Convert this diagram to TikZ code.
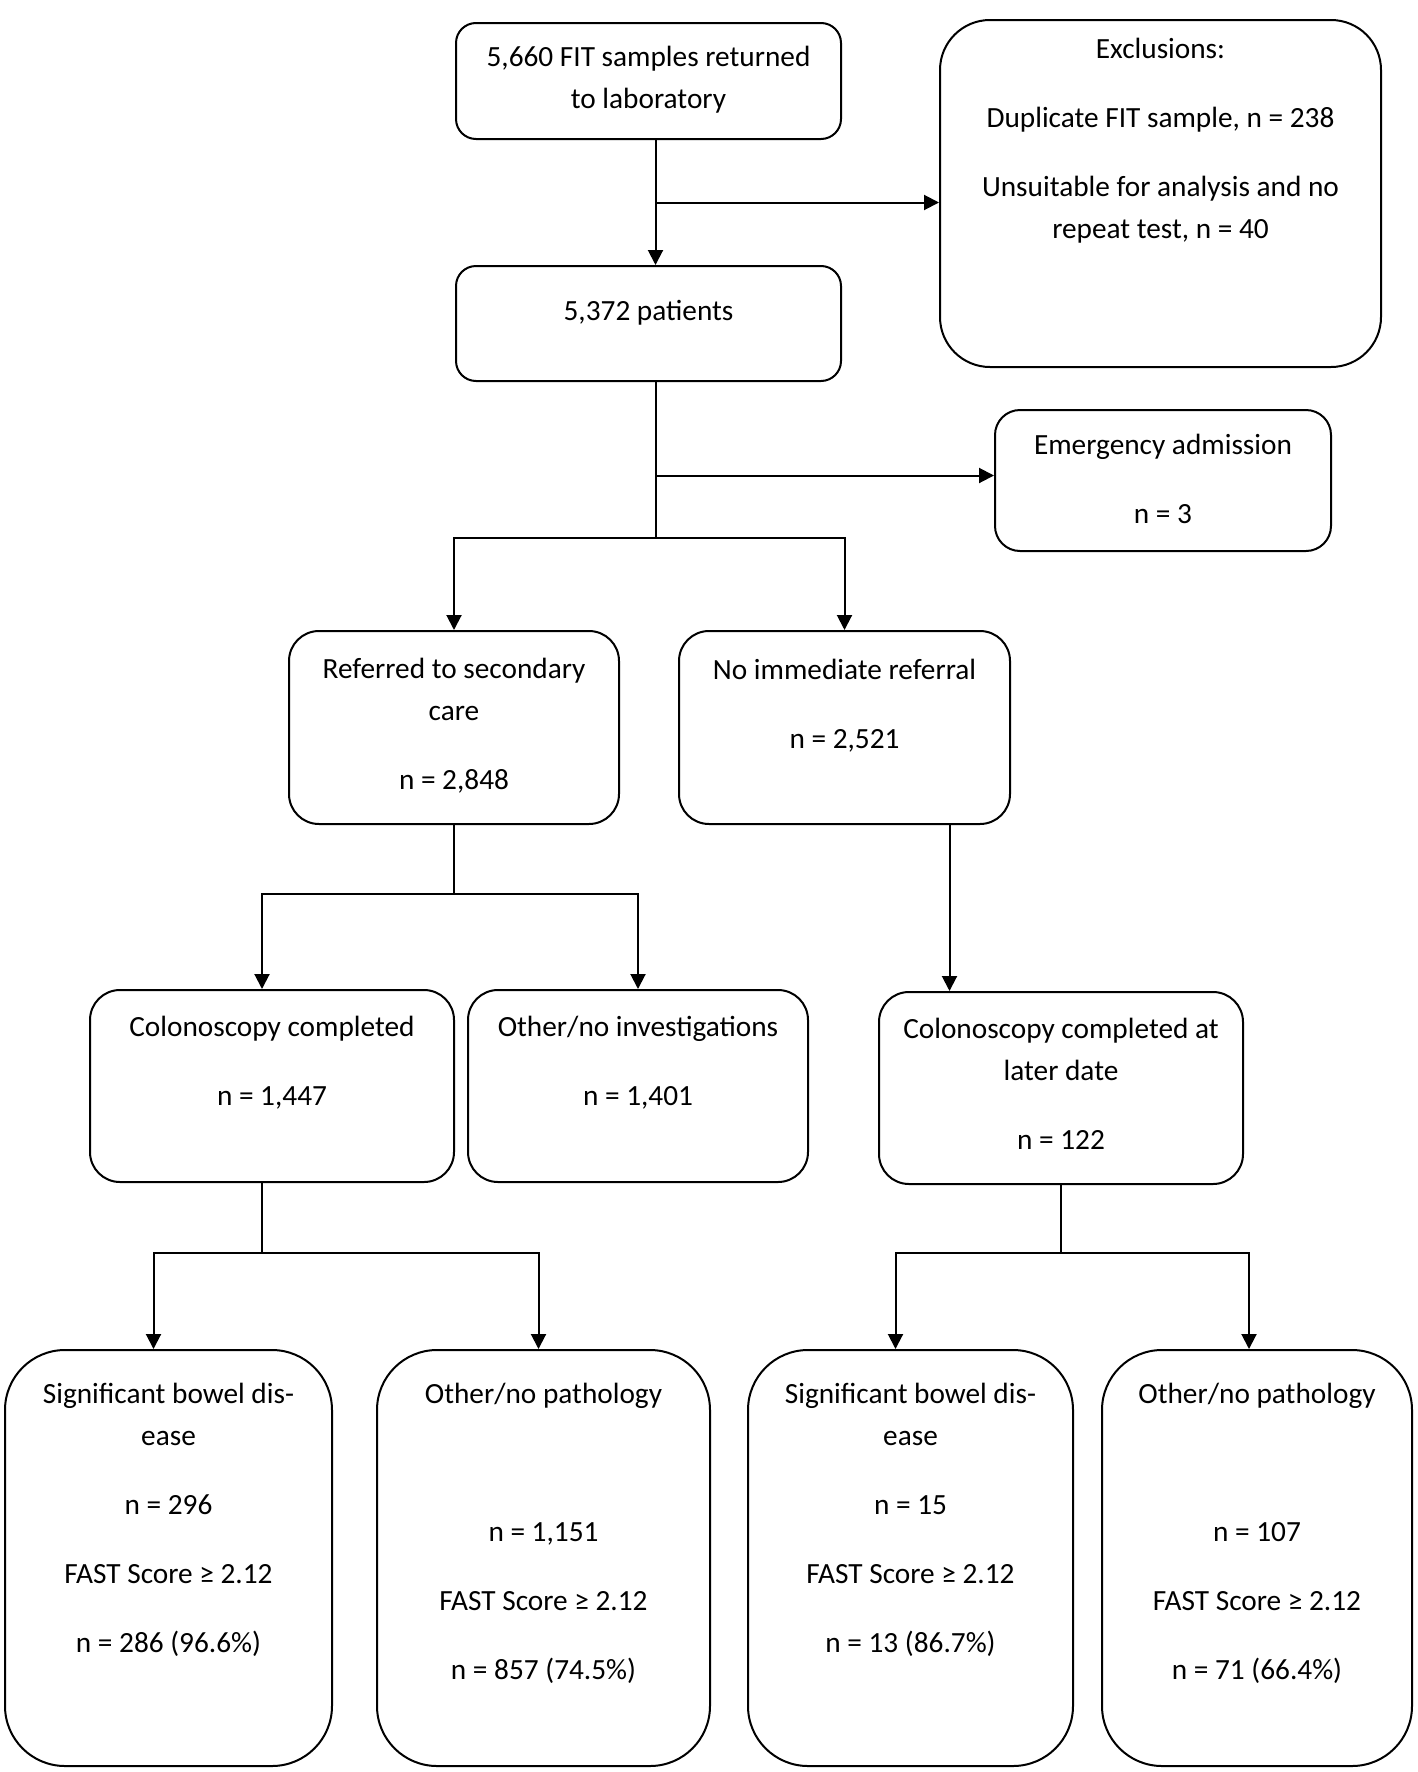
\documentclass[tikz,border=0pt]{standalone}
\usepackage{fontspec}
\setmainfont{Carlito}
\usetikzlibrary{arrows.meta,calc}

\begin{document}
\begin{tikzpicture}[x=1pt, y=1pt, line width=2pt,
    box/.style={draw, rounded corners=#1, inner sep=0pt},
    box/.default=25pt,
    txt/.style={anchor=north, align=center, inner sep=0pt, font=\fontsize{29.3}{42}\selectfont, execute at begin node=\strut},
    arr/.style={-{Triangle[width=15pt,length=15pt]}}]
    \useasboundingbox (0,0) rectangle (1418,-1772);

    \node[box=20pt, minimum width=385pt, minimum height=116pt] (fit) at (648.5,-81) {};
    \node[box=50pt, minimum width=441pt, minimum height=347pt] (excl) at (1160.5,-193.5) {};
    \node[box=20pt, minimum width=385pt, minimum height=115pt] (pat) at (648.5,-323.5) {};
    \node[box, minimum width=336pt, minimum height=141pt] (emerg) at (1163,-480.5) {};
    \node[box=30pt, minimum width=330pt, minimum height=193pt] (ref) at (454,-727.5) {};
    \node[box=30pt, minimum width=331pt, minimum height=193pt] (noref) at (844.5,-727.5) {};
    \node[box=30pt, minimum width=364pt, minimum height=192pt] (colo) at (272,-1086) {};
    \node[box=30pt, minimum width=340pt, minimum height=192pt] (other) at (638,-1086) {};
    \node[box=30pt, minimum width=364pt, minimum height=192pt] (later) at (1061,-1088) {};
    \node[box=60pt, minimum width=327pt, minimum height=416pt] (sig1) at (168.5,-1558) {};
    \node[box=60pt, minimum width=333pt, minimum height=416pt] (path1) at (543.5,-1558) {};
    \node[box=60pt, minimum width=325pt, minimum height=416pt] (sig2) at (910.5,-1558) {};
    \node[box=60pt, minimum width=310pt, minimum height=416pt] (path2) at (1257,-1558) {};

    \node[txt] (fittxt) at (648.5,-45.6) {5,660 FIT samples returned\\to laboratory};
    \node[txt] (excltxt) at (1160.5,-37.6) {Exclusions:\\[27pt]Duplicate FIT sample, n = 238\\[27pt]Unsuitable for analysis and no\\repeat test, n = 40};
    \node[txt] (pattxt) at (648.5,-289.6) {5,372 patients};
    \node[txt] (emergtxt) at (1163,-433.6) {Emergency admission\\[27pt]n = 3};
    \node[txt] (reftxt) at (454,-657.6) {Referred to secondary\\care\\[27pt]n = 2,848};
    \node[txt] (noreftxt) at (844.5,-658.6) {No immediate referral\\[27pt]n = 2,521};
    \node[txt] (colotxt) at (272,-1015.6) {Colonoscopy completed\\[27pt]n = 1,447};
    \node[txt] (othertxt) at (638,-1015.6) {Other/no investigations\\[27pt]n = 1,401};
    \node[txt] (latertxt) at (1061,-1017.6) {Colonoscopy completed at\\later date\\[27pt]n = 122};
    \node[txt] (sig1txt) at (168.5,-1382.6) {Significant bowel dis-\\ease\\[27pt]n = 296\\[27pt]FAST Score ≥ 2.12\\[27pt]n = 286 (96.6\%)};
    \node[txt] (path1txt) at (543.5,-1382.6) {Other/no pathology\\[96pt]n = 1,151\\[27pt]FAST Score ≥ 2.12\\[27pt]n = 857 (74.5\%)};
    \node[txt] (sig2txt) at (910.5,-1382.6) {Significant bowel dis-\\ease\\[27pt]n = 15\\[27pt]FAST Score ≥ 2.12\\[27pt]n = 13 (86.7\%)};
    \node[txt] (path2txt) at (1257,-1382.6) {Other/no pathology\\[96pt]n = 107\\[27pt]FAST Score ≥ 2.12\\[27pt]n = 71 (66.4\%)};

    \coordinate (fork1) at ($([xshift=7pt]fit.south)!.5!([xshift=7pt]pat.north)$);
    \draw[arr] ([xshift=7pt]fit.south) -- ([xshift=7pt]pat.north);
    \draw[arr] (fork1) -- (fork1 -| excl.west);
    \draw ([xshift=7pt]pat.south) -- ++(0,-156) coordinate (fork2);
    \draw[arr] ([xshift=7pt,yshift=5pt]pat.south |- emerg.west) -- ([yshift=5pt]emerg.west);
    \draw[arr] (fork2) -| (ref.north);
    \draw[arr] (fork2) -| (noref.north);
    \draw (ref.south) -- ++(0,-69) coordinate (fork3);
    \draw[arr] (fork3) -| ([xshift=-10pt]colo.north);
    \draw[arr] (fork3) -| (other.north);
    \draw[arr] ([xshift=105pt]noref.south) -- ([xshift=105pt]noref.south |- later.north);
    \draw ([xshift=-10pt]colo.south) -- ++(0,-70) coordinate (fork4);
    \draw[arr] (fork4) -| ([xshift=-15pt]sig1.north);
    \draw[arr] (fork4) -| ([xshift=-5pt]path1.north);
    \draw (later.south) -- ++(0,-68) coordinate (fork5);
    \draw[arr] (fork5) -| ([xshift=-15pt]sig2.north);
    \draw[arr] (fork5) -| ([xshift=-8pt]path2.north);
\end{tikzpicture}
\end{document}
